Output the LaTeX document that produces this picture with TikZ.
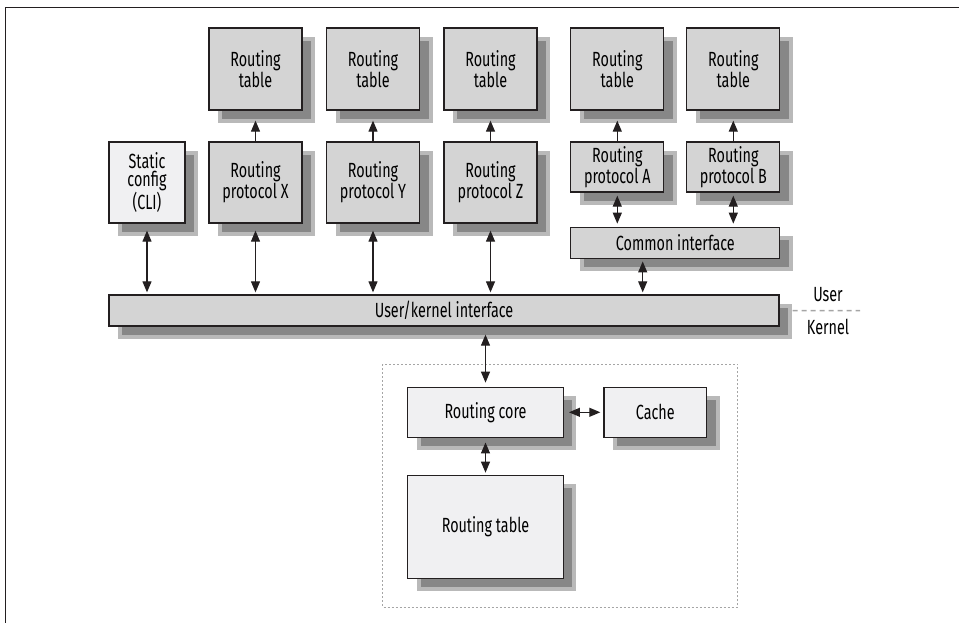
\documentclass[tikz,border=0pt]{standalone}
\usepackage{fontspec}
\setmainfont{Fira Sans}[FakeStretch=0.7]
\usetikzlibrary{arrows.meta,positioning,shadows}
\definecolor{rtdark}{RGB}{35,31,32}
\definecolor{rtgray}{RGB}{212,212,212}
\definecolor{rtlight}{RGB}{240,240,242}
\definecolor{rtshadow}{RGB}{135,135,135}
\definecolor{rtfringe}{RGB}{185,185,185}
\definecolor{rtdash}{RGB}{165,165,165}
\tikzset{
  rtbox/.style={draw=rtdark, line width=1.3pt, fill=#1, align=center, inner sep=0pt,
                font=\fontsize{20.5}{18.5}\selectfont,
                general shadow={fill=rtshadow, draw=rtfringe, line width=4pt,
                                shadow xshift=11pt, shadow yshift=-11pt}},
  link/.style={{Triangle[length=11pt,width=9pt]}-{Triangle[length=11pt,width=9pt]},
               line width=1.2pt, draw=rtdark},
  uplink/.style={-{Triangle[length=11pt,width=9pt]}, line width=1.2pt, draw=rtdark},
  sidelabel/.style={font=\fontsize{20.5}{18.5}\selectfont, inner sep=0pt},
}
\begin{document}
\begin{tikzpicture}[x=1pt, y=-1pt]
\useasboundingbox (0,0) rectangle (959,623);
% Frame
\draw[line width=1.3pt, rtdark] (5.7,623) -- (5.7,7.3) -- (959,7.3);
% User side: protocols with their tables
\node[rtbox=rtlight, minimum width=76pt, minimum height=81pt] (static) at (147,182.5) {Static\\config\\(CLI)};
\foreach \p/\x in {X/255.5, Y/373, Z/490.5}{
  \node[rtbox=rtgray, minimum width=93pt, minimum height=82pt] (table\p) at (\x,69) {Routing\\table};
  \node[rtbox=rtgray, minimum width=93pt, minimum height=81pt] (proto\p) at (\x,182.5) {Routing\\protocol \p};
  \draw[uplink, shorten >=10pt] (proto\p) -- (table\p);
}
\foreach \p/\x in {A/617.3, B/733.3}{
  \node[rtbox=rtgray, minimum width=93pt, minimum height=82pt] (table\p) at (\x,69) {Routing\\table};
  \node[rtbox=rtgray, minimum width=93pt, minimum height=50pt] (proto\p) at (\x,167) {Routing\\protocol \p};
  \draw[uplink, shorten >=10pt] (proto\p) -- (table\p);
}
\node[rtbox=rtgray, minimum width=209pt, minimum height=31pt] (common) at (675.3,242.8) {Common interface};
\node[rtbox=rtgray, minimum width=670pt, minimum height=31pt] (uk) at (444,310.5) {User/kernel interface};
% Links to the user/kernel interface
\foreach \n in {static, protoX, protoY, protoZ}{
  \draw[link, shorten <=7pt, shorten >=2pt] (\n.south) -- (\n.south |- uk.north);
}
\foreach \n in {protoA, protoB}{
  \draw[link, shorten <=3pt, shorten >=3pt] (\n.south) -- (\n.south |- common.north);
}
\draw[link, shorten <=2.5pt, shorten >=2pt] ([xshift=-32.6pt]common.south) -- ([xshift=-32.6pt]common.south |- uk.north);
% User / Kernel split
\coordinate (splitend) at (860,310.7);
\draw[rtdash, line width=1.5pt, dash pattern=on 5pt off 4pt, shorten <=13pt] (uk.east) -- (splitend);
\node[sidelabel] (user) at (828,295) {User};
\node[sidelabel] (kernel) at (828,326.7) {Kernel};
% Kernel side
\draw[rtdash, line width=0.8pt, dash pattern=on 2pt off 2pt] (382.7,364.3) rectangle (737.7,607.3);
\node[rtbox=rtlight, minimum width=155.6pt, minimum height=50pt] (core) at (485.5,412.3) {Routing core};
\node[rtbox=rtlight, minimum width=102.7pt, minimum height=50pt] (cache) at (655.3,412.3) {Cache};
\node[rtbox=rtlight, minimum width=155.6pt, minimum height=103pt] (rtable) at (485.5,526.8) {Routing table};
\draw[link, shorten <=8pt, shorten >=4pt] (core.north |- uk.south) -- (core.north);
\draw[link, shorten <=4.5pt, shorten >=2pt] (core) -- (rtable);
\draw[link, shorten <=5pt, shorten >=3pt] (core) -- (cache);
\end{tikzpicture}
\end{document}
